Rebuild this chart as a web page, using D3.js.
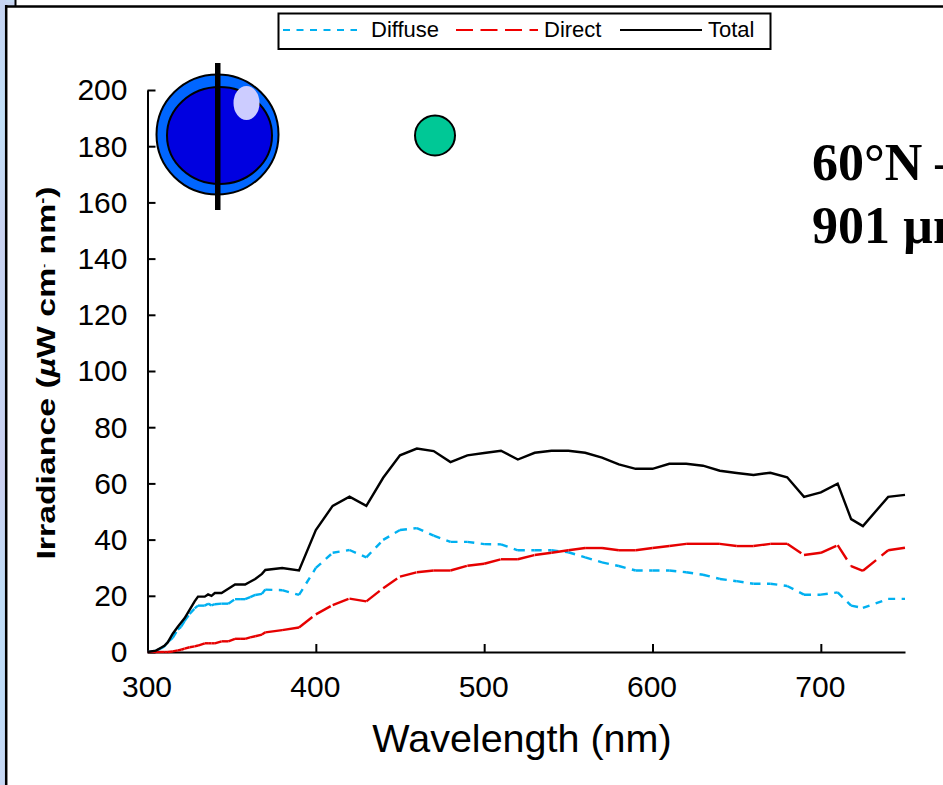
<!DOCTYPE html>
<html>
<head>
<meta charset="utf-8">
<script src="https://cdn.jsdelivr.net/npm/d3@7"></script>
<style>
  html, body { margin: 0; padding: 0; background: #fff; overflow: hidden; }
  svg { display: block; }
  text { font-family: "Liberation Sans", Arial, sans-serif; fill: #000; }
</style>
</head>
<body>
<div id="chart"></div>
<script>
var wavelengths = [300, 303, 305, 308, 310, 312, 315, 318, 320, 322, 325, 328, 330, 334, 336, 338, 340, 344, 348, 352, 355, 358, 361, 364, 368, 370, 380, 390,
    400, 410, 420, 430, 440, 450, 460, 470, 480, 490, 500, 510, 520, 530, 540, 550, 560, 570, 580, 590,
    600, 610, 620, 630, 640, 650, 660, 670, 680, 690, 700, 710, 718, 725, 740, 750];
var total = [0, 0.3, 0.5, 1.5, 2.2, 3.4, 6.5, 9, 10.5, 12, 15, 18, 19.7, 19.7, 20.5, 20, 21, 21, 22.5, 24, 24, 24, 25, 26, 27.8, 29.2, 29.9, 29,
    43.4, 52, 55.3, 52, 62, 70, 72.4, 71.5, 67.6, 70, 70.8, 71.6, 68.5, 70.9, 71.6, 71.6, 70.9, 69.2, 66.8, 65.2,
    65.2, 67, 67, 66.3, 64.5, 63.7, 63, 63.8, 62.2, 55.2, 56.8, 59.9, 47.3, 44.8, 55.2, 55.9];
var diffuse = [0, 0.2, 0.4, 1.3, 2, 3.5, 5, 8, 9, 11, 13.5, 15.5, 16.5, 16.5, 17.2, 16.6, 17, 17.2, 17.2, 18.8, 18.8, 18.8, 19.5, 20.3, 20.7, 22.2, 22, 20.3,
    29.9, 35.3, 36.3, 33.7, 39.9, 43.4, 44.1, 41.4, 39.2, 39.2, 38.4, 38.3, 36.2, 36.2, 36.2, 35.5, 33.7, 31.9, 30.6, 29,
    29, 29, 28.4, 27.5, 26, 25.2, 24.3, 24.3, 23.5, 20.4, 20.4, 21.2, 16.5, 15.7, 18.9, 18.9];
var direct = [0, 0, 0, 0, 0, 0, 0.2, 0.6, 0.8, 1.2, 1.7, 2, 2.3, 3.1, 3.1, 3.1, 3.1, 3.8, 3.8, 4.7, 4.7, 4.7, 5.2, 5.6, 6.2, 7, 7.8, 8.7,
    13.4, 16.7, 19, 18, 22.7, 26.8, 28.4, 29, 29, 30.7, 31.4, 33, 33, 34.5, 35.3, 36.2, 37, 37, 36.2, 36.2,
    37, 37.7, 38.5, 38.5, 38.5, 37.7, 37.7, 38.5, 38.5, 34.5, 35.3, 38, 30.6, 28.9, 36.2, 37.1];
var xTicks = [300, 400, 500, 600, 700];
var yTicks = [0, 20, 40, 60, 80, 100, 120, 140, 160, 180, 200];
var legendNames = ["Diffuse", "Direct", "Total"];

var width = 943, height = 785;

var svg = d3.select("#chart").append("svg")
    .attr("width", width)
    .attr("height", height);

// Slide background showing down the left edge
var defs = svg.append("defs");
var grad = defs.append("linearGradient")
    .attr("id", "slideBg")
    .attr("x1", 0).attr("y1", 0).attr("x2", 0).attr("y2", 1);
[["0%", "#c5d3f2"], ["15%", "#c2e0f8"], ["30%", "#c9d2f0"], ["45%", "#c4d6f3"], ["60%", "#ccd0f0"],
 ["75%", "#c0dcf6"], ["90%", "#bfdcf8"], ["100%", "#c8d8f4"]].forEach(function(s) {
    grad.append("stop").attr("offset", s[0]).attr("stop-color", s[1]);
});
svg.append("rect").attr("x", 0).attr("y", 0).attr("width", 15).attr("height", 7).style("fill", "url(#slideBg)");
svg.append("rect").attr("x", 0).attr("y", 0).attr("width", 6).attr("height", height).style("fill", "url(#slideBg)");
svg.append("line").attr("x1", 15.5).attr("x2", 15.5).attr("y1", 0).attr("y2", 6).style("stroke", "#000").style("stroke-width", 2);
svg.append("line").attr("x1", 6).attr("x2", width).attr("y1", 6.5).attr("y2", 6.5).style("stroke", "#000").style("stroke-width", 2.5);
svg.append("line").attr("x1", 6.2).attr("x2", 6.2).attr("y1", 5).attr("y2", height).style("stroke", "#000").style("stroke-width", 2.5);

var x = d3.scaleLinear().domain([300, 750]).range([147.5, 905]);
var y = d3.scaleLinear().domain([0, 200]).range([652, 90]);

// Axes
var xAxis = svg.append("g")
    .attr("transform", "translate(0," + y(0) + ")")
    .call(d3.axisBottom(x).tickValues(xTicks).tickSize(-8).tickPadding(24).tickSizeOuter(0));
var yAxis = svg.append("g")
    .attr("transform", "translate(" + x(300) + ",0)")
    .call(d3.axisLeft(y).tickValues(yTicks).tickSize(-8).tickPadding(20).tickSizeOuter(0));

[xAxis, yAxis].forEach(function(a) {
    a.selectAll("path").style("stroke", "#000").style("stroke-width", 2);
    a.selectAll("line").style("stroke", "#000").style("stroke-width", 2);
    a.selectAll("text")
        .style("font-family", '"Liberation Sans", Arial, sans-serif')
        .style("font-size", "30px")
        .style("fill", "#000");
});
xAxis.selectAll("text").attr("dy", "0.71em").attr("dx", "-1");
yAxis.selectAll("text").attr("dy", "0.33em");

// Series - the dash pattern starts over at every data point, so short steps read as solid
var line = d3.line()
    .x(function(d) { return x(d[0]); })
    .y(function(d) { return y(d[1]); });

function drawSeries(values, color, dash) {
    var pts = d3.zip(wavelengths, values);
    var segs = d3.pairs(pts);
    svg.append("g").selectAll("path")
        .data(segs)
        .enter().append("path")
        .attr("d", line)
        .style("fill", "none")
        .style("stroke", color)
        .style("stroke-width", 2.4)
        .style("stroke-linecap", "butt")
        .style("stroke-dasharray", dash);
}

drawSeries(diffuse, "#00b0f0", "7 6.5");
drawSeries(direct, "#e60000", "17 7");
svg.append("path").datum(d3.zip(wavelengths, total)).attr("d", line)
    .style("fill", "none").style("stroke", "#000").style("stroke-width", 2.4);

// Axis titles
svg.append("text")
    .attr("x", 522).attr("y", 752)
    .attr("text-anchor", "middle")
    .style("font-size", "39.5px")
    .text("Wavelength (nm)");

// Title is stretched along its length in the source
var yTitle = svg.append("text")
    .attr("transform", "translate(55,373) rotate(-90) scale(1.3,1)")
    .attr("text-anchor", "middle")
    .style("font-size", "26px")
    .style("font-weight", "bold");
yTitle.append("tspan").text("Irradiance (");
yTitle.append("tspan").style("font-style", "italic").text("\u00b5");
yTitle.append("tspan").text("W cm");
yTitle.append("tspan").attr("dy", -8).style("font-size", "9px").text("-");
yTitle.append("tspan").attr("dy", 8).text(" nm");
yTitle.append("tspan").attr("dy", -8).style("font-size", "14px").text("-");
yTitle.append("tspan").attr("dy", 8).text(")");

// Legend
var legend = svg.append("g");
legend.append("rect")
    .attr("x", 278.5).attr("y", 13.5).attr("width", 492).attr("height", 35.5)
    .style("fill", "#fff").style("stroke", "#000").style("stroke-width", 2);
var legendSamples = [
    { x1: 283, x2: 357, tx: 371, color: "#00b0f0", dash: "7 6.5" },
    { x1: 456, x2: 538, tx: 544, color: "#f00000", dash: "17 7.5" },
    { x1: 620, x2: 702, tx: 708, color: "#000", dash: null }
];
legendSamples.forEach(function(s, i) {
    legend.append("line")
        .attr("x1", s.x1).attr("x2", s.x2).attr("y1", 30).attr("y2", 30)
        .style("stroke", s.color).style("stroke-width", 2)
        .style("stroke-dasharray", s.dash);
    legend.append("text")
        .attr("x", s.tx).attr("y", 37)
        .style("font-size", "22px")
        .text(legendNames[i]);
});

// Eye icon
var icon = svg.append("g");
icon.append("ellipse").attr("cx", 217.5).attr("cy", 134.5).attr("rx", 61).attr("ry", 60)
    .style("fill", "#0066ff").style("stroke", "#000").style("stroke-width", 2);
icon.append("ellipse").attr("cx", 219.5).attr("cy", 135.5).attr("rx", 52.5).attr("ry", 48.5)
    .style("fill", "#0000e0").style("stroke", "#000").style("stroke-width", 2);
icon.append("rect").attr("x", 215).attr("y", 63).attr("width", 5.5).attr("height", 147).style("fill", "#000");
icon.append("ellipse").attr("cx", 246.5).attr("cy", 103).attr("rx", 13).attr("ry", 17).style("fill", "#ccccff");

svg.append("circle").attr("cx", 435).attr("cy", 135.5).attr("r", 20)
    .style("fill", "#00c896").style("stroke", "#000").style("stroke-width", 2);

// Station note, runs off the right edge like the source
svg.append("text").attr("x", 812).attr("y", 180)
    .style("font-family", '"Liberation Serif", "Times New Roman", serif')
    .style("font-size", "52px").style("font-weight", "bold")
    .text("60\u00b0N \u2013");
svg.append("text").attr("x", 812).attr("y", 243)
    .style("font-family", '"Liberation Serif", "Times New Roman", serif')
    .style("font-size", "52px").style("font-weight", "bold")
    .text("901 \u00b5m");
</script>
</body>
</html>
